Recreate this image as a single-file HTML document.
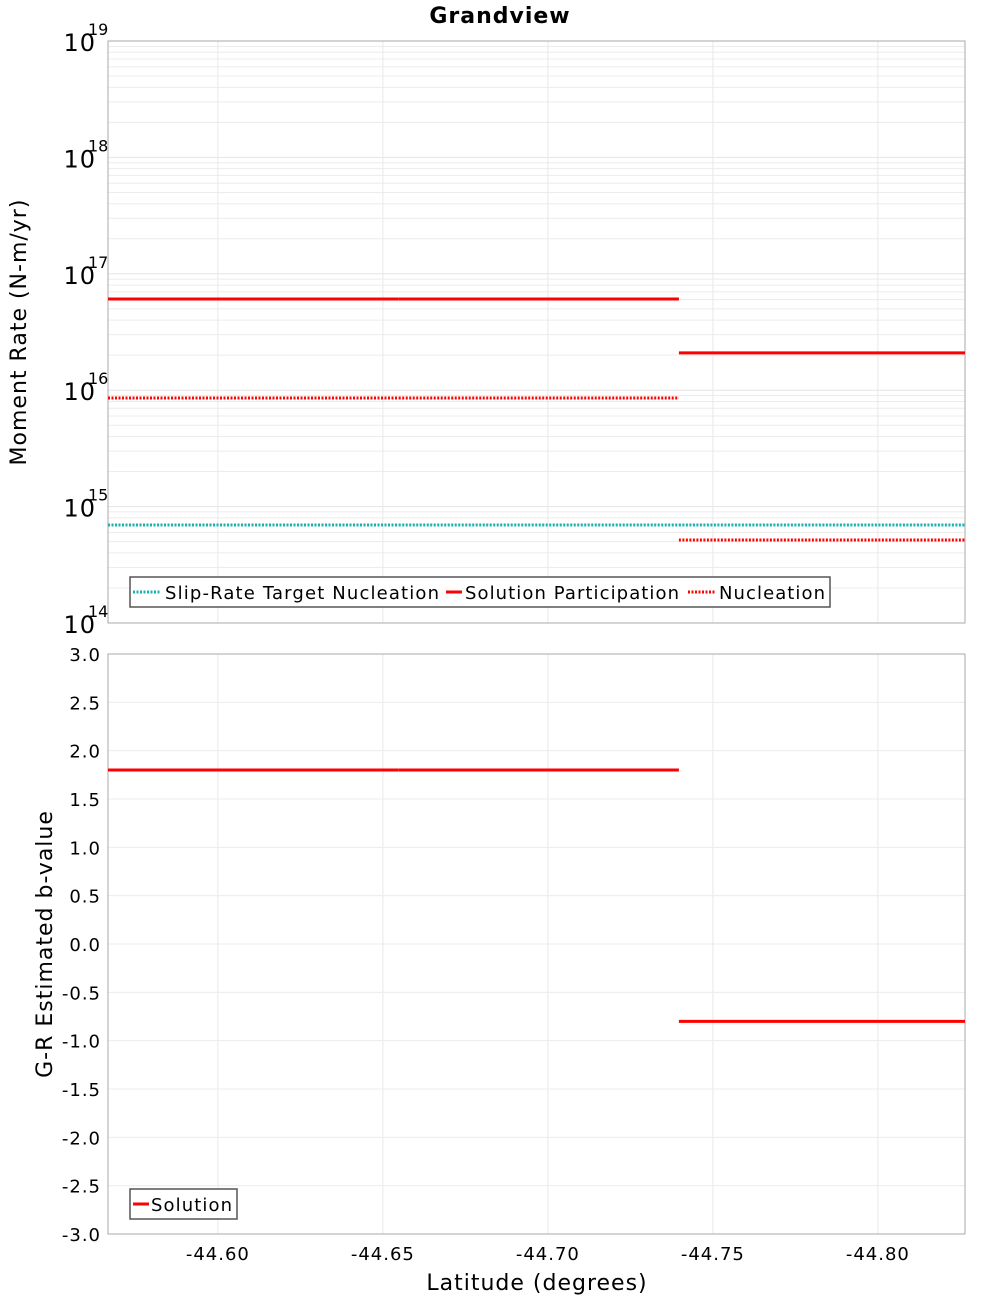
<!DOCTYPE html>
<html><head><meta charset="utf-8"><style>
body{margin:0;background:#fff;}
svg{display:block;font-family:"DejaVu Sans","Liberation Sans",sans-serif;}
text{letter-spacing:1px;}
</style></head><body>
<svg id="c" width="1000" height="1300" xmlns="http://www.w3.org/2000/svg"></svg>
<script>
const xTicks=[-44.60,-44.65,-44.70,-44.75,-44.80];
const segStart=[-44.5667,-44.6548,-44.7397];
const segEnd=[-44.6548,-44.7397,-44.8264];
const participation=[6.07e16,6.07e16,2.09e16];
const nucleation=[8.57e15,8.57e15,5.17e14];
const target=[6.95e14,6.95e14,6.95e14];
const bValues=[1.8,1.8,-0.8];
const logDecades=[14,15,16,17,18,19];
const bTicks=[-3,-2.5,-2,-1.5,-1,-0.5,0,0.5,1,1.5,2,2.5,3];

const NS="http://www.w3.org/2000/svg";
const svg=document.getElementById('c');
function el(t,a,txt){const e=document.createElementNS(NS,t);for(const k in a)e.setAttribute(k,a[k]);if(txt!==undefined)e.textContent=txt;svg.appendChild(e);return e;}
const L=108,R=965,T1=41,B1=623,T2=654,B2=1234;
const xMin=-44.5667,xMax=-44.8264;
const X=v=>L+(v-xMin)/(xMax-xMin)*(R-L);
const Y1=v=>B1-(Math.log10(v)-14)/5*(B1-T1);
const Y2=v=>B2-(v+3)/6*(B2-T2);

for(let d=14;d<19;d++)for(let m=2;m<=9;m++){const g=el('line',{x1:L,x2:R,y1:Y1(m*Math.pow(10,d)),y2:Y1(m*Math.pow(10,d)),stroke:'#ececec','stroke-width':1});}
logDecades.forEach(d=>{const g=el('line',{x1:L,x2:R,y1:Y1(Math.pow(10,d)),y2:Y1(Math.pow(10,d)),stroke:'#e4e4e4'});});
xTicks.forEach(t=>{
 const a=el('line',{x1:X(t),x2:X(t),y1:T1,y2:B1,stroke:'#e8e8e8'});
 const b=el('line',{x1:X(t),x2:X(t),y1:T2,y2:B2,stroke:'#e8e8e8'});
});
bTicks.forEach(t=>{const g=el('line',{x1:L,x2:R,y1:Y2(t),y2:Y2(t),stroke:'#ececec'});});

let f=el('rect',{x:L,y:T1,width:R-L,height:B1-T1,fill:'none',stroke:'#aaa'});
f=el('rect',{x:L,y:T2,width:R-L,height:B2-T2,fill:'none',stroke:'#aaa'});

for(let i=0;i<3;i++){
 let s=el('line',{x1:X(segStart[i]),x2:X(segEnd[i]),y1:Y1(target[i]),y2:Y1(target[i]),stroke:'#1ab3b3','stroke-width':3,'stroke-dasharray':'2 1.5'});
 s=el('line',{x1:X(segStart[i]),x2:X(segEnd[i]),y1:Y1(nucleation[i]),y2:Y1(nucleation[i]),stroke:'#f00','stroke-width':3,'stroke-dasharray':'2 1.5'});
 s=el('line',{x1:X(segStart[i]),x2:X(segEnd[i]),y1:Y1(participation[i]),y2:Y1(participation[i]),stroke:'#f00','stroke-width':3});
 s=el('line',{x1:X(segStart[i]),x2:X(segEnd[i]),y1:Y2(bValues[i]),y2:Y2(bValues[i]),stroke:'#f00','stroke-width':3});
}

logDecades.forEach(d=>{
 const y=Y1(Math.pow(10,d));
 let t=el('text',{x:96,y:y+10,'font-size':24,'text-anchor':'end',fill:'#000'},'10');
 t=el('text',{x:88,y:y-6,'font-size':16,fill:'#000',style:'letter-spacing:0'},String(d));
});
bTicks.forEach(v=>{const t=el('text',{x:101,y:Y2(v)+7,'font-size':18,'text-anchor':'end'},v.toFixed(1));});
xTicks.forEach(v=>{const t=el('text',{x:X(v),y:1260,'font-size':18,'text-anchor':'middle'},v.toFixed(2));});

let t=el('text',{x:500,y:23,'font-size':22,'font-weight':'bold','text-anchor':'middle'},'Grandview');
t=el('text',{x:537,y:1290,'font-size':22,'text-anchor':'middle'},'Latitude (degrees)');
t=el('text',{x:0,y:0,'font-size':22,'text-anchor':'middle',transform:'translate(26,332) rotate(-90)'},'Moment Rate (N-m/yr)');
t=el('text',{x:0,y:0,'font-size':22,'text-anchor':'middle',transform:'translate(52,944) rotate(-90)'},'G-R Estimated b-value');

let r=el('rect',{x:130,y:577,width:700,height:30,fill:'#fff',stroke:'#555','stroke-width':1.5});
let l=el('line',{x1:133,x2:161,y1:592,y2:592,stroke:'#1ab3b3','stroke-width':3,'stroke-dasharray':'2 1.5'});
t=el('text',{x:165,y:599,'font-size':18,textLength:275},'Slip-Rate Target Nucleation');
l=el('line',{x1:446,x2:462,y1:592,y2:592,stroke:'#f00','stroke-width':3});
t=el('text',{x:465,y:599,'font-size':18,textLength:215},'Solution Participation');
l=el('line',{x1:688,x2:716,y1:592,y2:592,stroke:'#f00','stroke-width':3,'stroke-dasharray':'2 1.5'});
t=el('text',{x:719,y:599,'font-size':18,textLength:107},'Nucleation');
r=el('rect',{x:130,y:1189,width:107,height:30,fill:'#fff',stroke:'#555','stroke-width':1.5});
l=el('line',{x1:133,x2:149,y1:1204,y2:1204,stroke:'#f00','stroke-width':3});
t=el('text',{x:151,y:1211,'font-size':18,textLength:82},'Solution');
</script>
</body></html>
